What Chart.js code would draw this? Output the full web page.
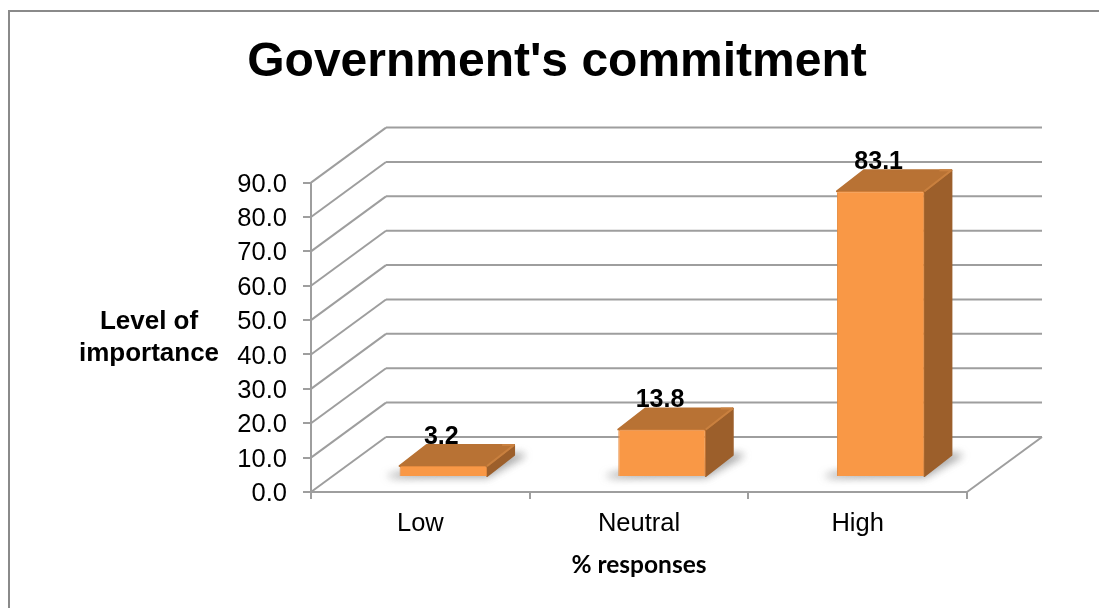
<!DOCTYPE html>
<html>
<head>
<meta charset="utf-8">
<title>Government's commitment</title>
<script src="https://cdn.jsdelivr.net/npm/chart.js@4"></script>
<style>
  html, body { margin: 0; padding: 0; background: #fff; overflow: hidden; width: 1099px; height: 608px; }
  canvas { display: block; }
</style>
</head>
<body>
<canvas id="chart" width="1099" height="608"></canvas>
<script>
const categories = ['Low', 'Neutral', 'High'];
const responses = [3.2, 13.8, 83.1];
const yTicks = [0, 10, 20, 30, 40, 50, 60, 70, 80, 90];

const FONT = '"Liberation Sans", Arial, sans-serif';
const GRID = '#9e9e9e';
// depth of the fake 3D box, and where the bars sit inside it
const WALL = { x: 75, y: -55 };
const BAR_SHIFT = { x: 23, y: -15 };
const BAR_DEPTH = { x: 27, y: -21 };

function line(ctx, x1, y1, x2, y2) {
    ctx.beginPath();
    ctx.moveTo(x1, y1);
    ctx.lineTo(x2, y2);
    ctx.stroke();
}

function poly(ctx, pts, fill) {
    ctx.fillStyle = fill;
    ctx.strokeStyle = fill;
    ctx.lineWidth = 2;
    ctx.lineJoin = 'round';
    ctx.beginPath();
    pts.forEach((p, i) => i ? ctx.lineTo(p[0], p[1]) : ctx.moveTo(p[0], p[1]));
    ctx.closePath();
    ctx.fill();
    ctx.stroke();
}

const box3d = {
    id: 'box3d',
    beforeDatasetsDraw(chart) {
        const { ctx, chartArea, scales } = chart;
        const { left, right } = chartArea;
        ctx.save();
        ctx.strokeStyle = GRID;
        ctx.lineWidth = 2;
        yTicks.forEach(v => {
            const y = scales.y.getPixelForValue(v);
            line(ctx, left, y, left + WALL.x, y + WALL.y);
            line(ctx, left + WALL.x, y + WALL.y, right + WALL.x, y + WALL.y);
        });
        const y0 = scales.y.getPixelForValue(0);
        line(ctx, right, y0, right + WALL.x, y0 + WALL.y);

        // shadows and the side and top faces of each bar
        chart.getDatasetMeta(0).data.forEach(bar => {
            const l = bar.x - bar.width / 2 + BAR_SHIFT.x;
            const r = bar.x + bar.width / 2 + BAR_SHIFT.x;
            const t = bar.y + BAR_SHIFT.y;
            const b = bar.base + BAR_SHIFT.y;
            const d = BAR_DEPTH;
            ctx.save();
            ctx.filter = 'blur(4px)';
            poly(ctx, [[l - 11, b], [r, b], [r + d.x + 10, b + d.y], [r + d.x, b + d.y]], 'rgba(100,100,100,0.6)');
            ctx.restore();
            poly(ctx, [[r, t], [r + d.x, t + d.y], [r + d.x, b + d.y], [r, b]], '#9c5f2b');
            poly(ctx, [[l, t], [l + d.x, t + d.y], [r + d.x, t + d.y], [r, t]], '#b87234');
            ctx.strokeStyle = '#c9803f';
            ctx.lineWidth = 2;
            line(ctx, r, t, r + d.x, t + d.y);
            line(ctx, r + d.x - 12, t + d.y, r + d.x, t + d.y);
        });
        ctx.restore();
        // the front faces are drawn by the library, moved back into the box
        ctx.save();
        ctx.translate(BAR_SHIFT.x, BAR_SHIFT.y);
    },
    afterDatasetsDraw(chart) {
        const { ctx } = chart;
        ctx.restore();
        ctx.save();
        ctx.fillStyle = '#000';
        ctx.textAlign = 'center';
        ctx.textBaseline = 'middle';
        ctx.font = 'bold 25px ' + FONT;
        chart.getDatasetMeta(0).data.forEach((bar, i) => {
            ctx.fillText(responses[i].toFixed(1), bar.x + BAR_SHIFT.x - 2, bar.y + BAR_SHIFT.y - 29);
        });
        ctx.font = 'bold 26px ' + FONT;
        ctx.fillText('Level of', 149, 322);
        ctx.fillText('importance', 149, 354);
        ctx.restore();
    },
    afterDraw(chart) {
        const { ctx } = chart;
        ctx.save();
        ctx.strokeStyle = '#8a8a8a';
        ctx.lineWidth = 2;
        ctx.strokeRect(9, 11, 1200, 800);
        ctx.restore();
    }
};

new Chart(document.getElementById('chart'), {
    type: 'bar',
    data: {
        labels: categories,
        datasets: [{
            label: '% responses',
            data: responses,
            backgroundColor: '#f99846',
            borderColor: '#e58a3e',
            borderWidth: 1,
            borderRadius: 2,
            barPercentage: 0.4,
            categoryPercentage: 1
        }]
    },
    options: {
        responsive: false,
        animation: false,
        // left + right padding keep the title centred where the reference has it
        layout: { padding: { left: 147, right: 132, top: 0, bottom: 0 } },
        plugins: {
            legend: { display: false },
            tooltip: { enabled: false },
            title: {
                display: true,
                text: "Government's commitment",
                color: '#000',
                font: { family: FONT, size: 48, weight: 'bold' },
                padding: { top: 34, bottom: 91 }
            }
        },
        scales: {
            x: {
                afterFit(scale) { scale.height = 116; },
                grid: { display: true, drawOnChartArea: false, color: GRID, lineWidth: 2, tickLength: 7 },
                border: { color: GRID, width: 2 },
                ticks: { color: '#000', font: { family: FONT, size: 25.5 }, padding: 10 },
                title: {
                    display: true,
                    text: '% responses',
                    color: '#000',
                    font: { family: 'Lato, sans-serif', size: 24.5, weight: 'bold' },
                    padding: { top: 4, bottom: 28 }
                }
            },
            y: {
                min: 0,
                max: 90,
                afterFit(scale) { scale.width = 164; },
                afterBuildTicks(scale) { scale.ticks = yTicks.map(v => ({ value: v })); },
                grid: { display: true, drawOnChartArea: false, color: GRID, lineWidth: 2, tickLength: 8 },
                border: { color: GRID, width: 2 },
                ticks: {
                    color: '#000',
                    font: { family: FONT, size: 25.5 },
                    padding: 16,
                    labelOffset: 2,
                    callback: v => v.toFixed(1)
                }
            }
        }
    },
    plugins: [box3d]
});
</script>
</body>
</html>
